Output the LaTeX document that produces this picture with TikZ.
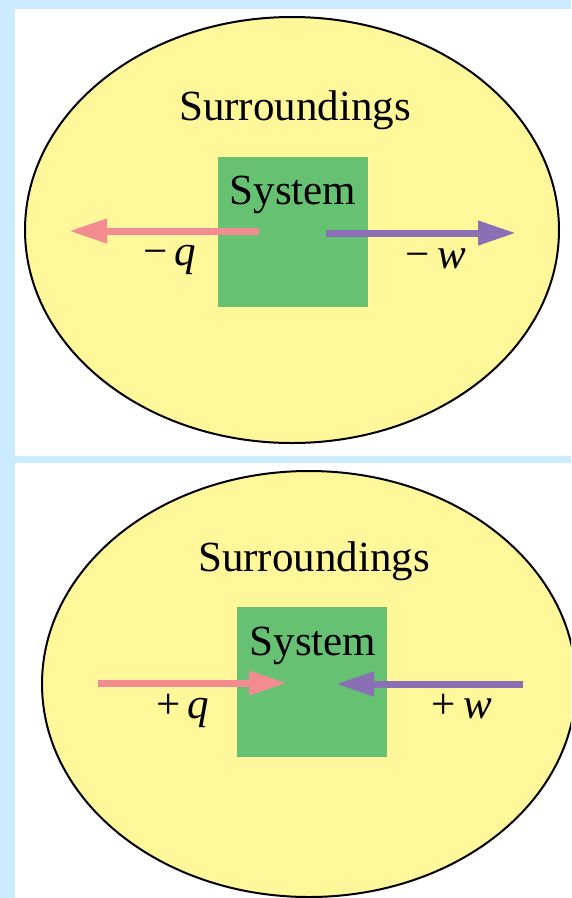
\documentclass[tikz,border=0pt]{standalone}
\usepackage{fontspec}
\setmainfont{Liberation Serif}
\usetikzlibrary{arrows.meta,shapes.geometric}
\definecolor{bandblue}{HTML}{CCEBFF}
\definecolor{surryellow}{HTML}{FFF799}
\definecolor{sysgreen}{HTML}{66C172}
\definecolor{heatpink}{HTML}{F28C91}
\definecolor{workpurple}{HTML}{8A6FB5}
\tikzset{
  surr/.style={ellipse,draw=black,line width=2pt,fill=surryellow,minimum width=534pt,minimum height=426pt,inner sep=0pt},
  sysbox/.style={rectangle,fill=sysgreen,minimum width=150pt,minimum height=150pt,inner sep=0pt},
  lbl/.style={anchor=base,inner sep=0pt,font=\fontsize{43}{50}\selectfont},
  flow/.style={line width=7pt,-{Triangle[length=38pt,width=23pt]}},
}
\begin{document}
\begin{tikzpicture}[x=1pt,y=-1pt]
\useasboundingbox (0,0) rectangle (571,898);
\clip (0,0) rectangle (571,898);
\fill[bandblue] (0,0) rectangle (571,898);
\fill[white] (15,9) rectangle (571,456);
\fill[white] (15,463) rectangle (571,898);
% top panel
\node[surr] (surrA) at (292,230) {};
\node[sysbox] (sysA) at (293,232) {};
\node[lbl] (surrtA) at (295,120) {Surroundings};
\node[lbl] (systA) at (293,204) {System};
\coordinate (qA1) at (259,231);
\coordinate (qA2) at (69,231);
\coordinate (wA1) at (326,233);
\coordinate (wA2) at (516,233);
\draw[flow,heatpink] (qA1) -- (qA2);
\draw[flow,workpurple] (wA1) -- (wA2);
\node[lbl] (qlA) at (170,265) {−\,\textit{q}};
\node[lbl] (wlA) at (436,268) {−\,\textit{w}};
% bottom panel
\node[surr] (surrB) at (309,684) {};
\node[sysbox] (sysB) at (312,681.5) {};
\node[lbl] (surrtB) at (314,571) {Surroundings};
\node[lbl] (systB) at (313,655) {System};
\coordinate (qB1) at (98,683);
\coordinate (qB2) at (287,683);
\coordinate (wB1) at (523,684);
\coordinate (wB2) at (336,684);
\draw[flow,heatpink] (qB1) -- (qB2);
\draw[flow,workpurple] (wB1) -- (wB2);
\node[lbl] (qlB) at (183,718) {+\,\textit{q}};
\node[lbl] (wlB) at (462,718) {+\,\textit{w}};
\end{tikzpicture}
\end{document}
